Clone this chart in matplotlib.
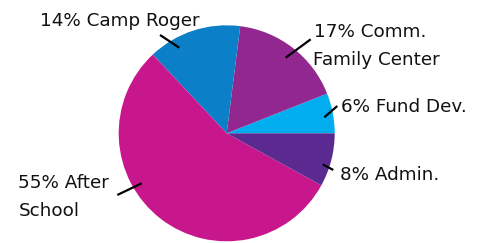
import numpy as np
import matplotlib
matplotlib.use("Agg")
import matplotlib.pyplot as plt

# budget shares, counter-clockwise from 3 o'clock
categories = ["Fund Dev.", "Comm. Family Center", "Camp Roger", "After School", "Admin."]
shares = [6, 17, 14, 55, 8]
colors = ["#00aeef", "#92278f", "#0b80c9", "#c8168c", "#5b2a91"]

# label lines: (text, left x px, baseline y px from top)
label_lines = [("6% Fund Dev.", 341, 111.7),
               ("17% Comm.", 314, 37.3),
               ("Family Center", 313, 65),
               ("14% Camp Roger", 40, 26),
               ("55% After", 18.5, 188.3),
               ("School", 18.5, 215.7),
               ("8% Admin.", 340, 180)]
# leader lines (px, from image top-left)
leader_lines = [((324.3, 117.3), (337.3, 106)),
                ((285.7, 57.7), (310.7, 39.3)),
                ((179.3, 47.7), (160, 35)),
                ((141.7, 183.3), (117.3, 195)),
                ((322.7, 164.3), (333.3, 170))]

W, H = 481, 243
fig = plt.figure(figsize=(W / 100, H / 100), dpi=100)
ax = fig.add_axes([0, 0, 1, 1])
ax.set_xlim(0, W)
ax.set_ylim(0, H)
ax.set_aspect("equal")
ax.axis("off")

cx, cy, r = 226.7, 133.3, 108
ax.pie(shares, colors=colors, startangle=0, counterclock=True,
       center=(cx, H - cy), radius=r, wedgeprops=dict(linewidth=0))
ax.set_xlim(0, W)
ax.set_ylim(0, H)

for (x1, y1), (x2, y2) in leader_lines:
    ax.plot([x1, x2], [H - y1, H - y2], color="black", lw=1.6, solid_capstyle="butt")

for txt, tx, ty in label_lines:
    ax.text(tx, H - ty, txt, ha="left", va="baseline", fontsize=13.2,
            family="DejaVu Sans", color="#111111")

fig.savefig("out.png", dpi=100)
